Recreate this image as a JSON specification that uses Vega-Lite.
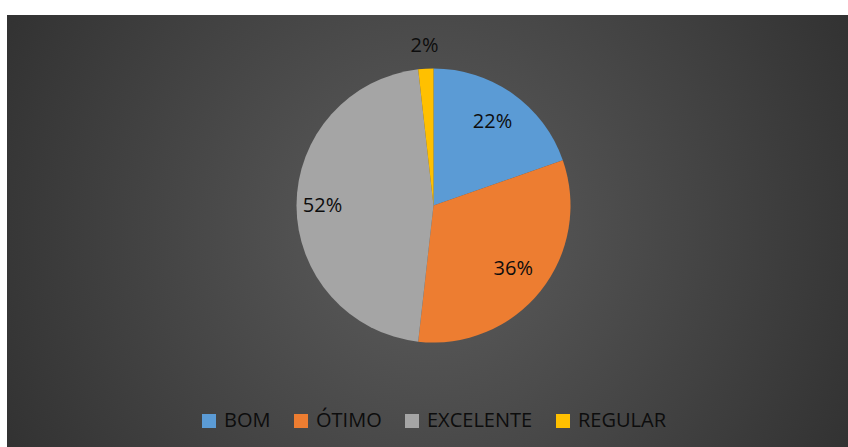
{
  "$schema": "https://vega.github.io/schema/vega-lite/v6.json",
  "width": 848,
  "height": 447,
  "autosize": {"type": "fit", "contains": "padding"},
  "padding": {"top": 15, "left": 7, "right": 0, "bottom": 0},
  "background": "#FFFFFF",
  "config": {
    "view": {"stroke": null},
    "font": "Open Sans"
  },
  "layer": [
    {
      "data": {"values": [{}]},
      "mark": {
        "type": "rect",
        "fill": {
          "gradient": "radial",
          "x1": 0.5, "y1": 0.5, "r1": 0,
          "x2": 0.5, "y2": 0.5, "r2": 0.72,
          "stops": [
            {"offset": 0, "color": "#5D5D5D"},
            {"offset": 1, "color": "#262626"}
          ]
        }
      },
      "encoding": {}
    },
    {
      "data": {
        "values": [
          {"ordem": 1, "categoria": "BOM", "valor": 22, "rotulo": "22%"},
          {"ordem": 2, "categoria": "ÓTIMO", "valor": 36, "rotulo": "36%"},
          {"ordem": 3, "categoria": "EXCELENTE", "valor": 52, "rotulo": "52%"},
          {"ordem": 4, "categoria": "REGULAR", "valor": 2, "rotulo": "2%"}
        ]
      },
      "transform": [
        {"stack": "valor", "groupby": [], "sort": [{"field": "ordem", "order": "ascending"}], "as": ["v0", "v1"]},
        {"calculate": "(datum.v0 + datum.v1) / 2", "as": "meio"}
      ],
      "layer": [
        {
          "mark": {
            "type": "arc",
            "radius": 137,
            "x": {"expr": "width/2 + 6"},
            "y": {"expr": "height/2 - 25.5"}
          },
          "encoding": {
            "theta": {"field": "v0", "type": "quantitative", "scale": {"domain": [0, 112]}},
            "theta2": {"field": "v1"},
            "color": {
              "field": "categoria",
              "type": "nominal",
              "sort": ["BOM", "ÓTIMO", "EXCELENTE", "REGULAR"],
              "scale": {
                "domain": ["BOM", "ÓTIMO", "EXCELENTE", "REGULAR"],
                "range": ["#5B9BD5", "#ED7D31", "#A5A5A5", "#FFC000"]
              },
              "legend": {
                "title": null,
                "orient": "none",
                "direction": "horizontal",
                "legendX": 192,
                "legendY": 396,
                "symbolType": "square",
                "symbolSize": 196,
                "symbolStrokeWidth": 0,
                "labelFontSize": 20,
                "labelFont": "Open Sans",
                "labelColor": "#0D0D0D",
                "labelOffset": 5,
                "columnPadding": 20,
                "labelLimit": 300
              }
            }
          }
        },
        {
          "transform": [{"filter": "datum.categoria === 'BOM' || datum.categoria === 'ÓTIMO'"}],
          "mark": {
            "type": "text",
            "radius": 102,
            "x": {"expr": "width/2 + 6"},
            "y": {"expr": "height/2 - 25.5"},
            "fontSize": 20,
            "font": "Open Sans",
            "color": "#0D0D0D",
            "align": "center",
            "baseline": "middle"
          },
          "encoding": {
            "theta": {"field": "meio", "type": "quantitative", "scale": {"domain": [0, 112]}},
            "text": {"field": "rotulo", "type": "nominal"}
          }
        },
        {
          "transform": [{"filter": "datum.categoria === 'EXCELENTE'"}],
          "mark": {
            "type": "text",
            "radius": 111,
            "x": {"expr": "width/2 + 6"},
            "y": {"expr": "height/2 - 25.5"},
            "fontSize": 20,
            "font": "Open Sans",
            "color": "#0D0D0D",
            "align": "center",
            "baseline": "middle"
          },
          "encoding": {
            "theta": {"field": "meio", "type": "quantitative", "scale": {"domain": [0, 112]}},
            "text": {"field": "rotulo", "type": "nominal"}
          }
        },
        {
          "transform": [{"filter": "datum.categoria === 'REGULAR'"}],
          "mark": {
            "type": "text",
            "radius": 160,
            "x": {"expr": "width/2 + 6"},
            "y": {"expr": "height/2 - 25.5"},
            "fontSize": 20,
            "font": "Open Sans",
            "color": "#0D0D0D",
            "align": "center",
            "baseline": "middle"
          },
          "encoding": {
            "theta": {"field": "meio", "type": "quantitative", "scale": {"domain": [0, 112]}},
            "text": {"field": "rotulo", "type": "nominal"}
          }
        }
      ]
    }
  ]
}
